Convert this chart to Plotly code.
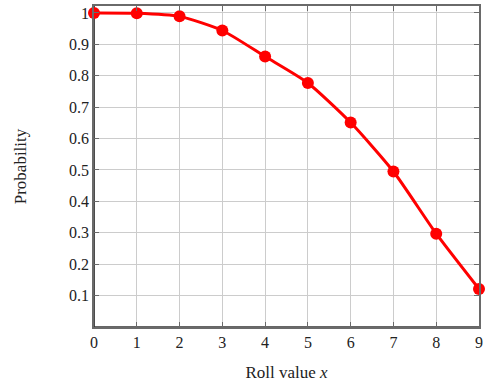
import plotly.graph_objects as go

roll_values = [0, 1, 2, 3, 4, 5, 6, 7, 8, 9]
probabilities = [1.0, 0.999, 0.989, 0.944, 0.861, 0.777, 0.651, 0.495, 0.297, 0.121]
x_ticks = [0, 1, 2, 3, 4, 5, 6, 7, 8, 9]
y_ticks = [0.1, 0.2, 0.3, 0.4, 0.5, 0.6, 0.7, 0.8, 0.9, 1.0]
y_tick_labels = ["0.1", "0.2", "0.3", "0.4", "0.5", "0.6", "0.7", "0.8", "0.9", "1"]

font_family = "Liberation Serif, DejaVu Serif, serif"

fig = go.Figure()
fig.add_trace(go.Scatter(
    x=roll_values, y=probabilities, mode="lines+markers",
    line=dict(color="#ff0000", width=3, shape="spline", smoothing=0.6),
    marker=dict(color="#ff0000", size=12),
    cliponaxis=False, showlegend=False, hoverinfo="skip",
))

# darker left and bottom axis lines
fig.add_shape(type="line", xref="paper", yref="paper", x0=0, y0=0, x1=0, y1=1,
              line=dict(color="#111111", width=1.5), layer="below")
fig.add_shape(type="line", xref="paper", yref="paper", x0=0, y0=0, x1=1, y1=0,
              line=dict(color="#333333", width=1.5), layer="below")

fig.update_layout(
    width=487, height=383,
    margin=dict(l=94, r=4, t=4, b=56),
    paper_bgcolor="white", plot_bgcolor="white",
    font=dict(family=font_family, size=16, color="#222222"),
    xaxis=dict(
        range=[0, 9], tickvals=x_ticks, showgrid=True, gridcolor="#cccccc", gridwidth=1,
        zeroline=False, showline=True, linecolor="#6a6a6a", linewidth=1.5,
        ticks="inside", ticklen=5, tickcolor="#6a6a6a", mirror="ticks",
        title=dict(text="Roll value <i>x</i>", standoff=16, font=dict(size=17)),
    ),
    yaxis=dict(
        range=[0, 1.022], tickvals=y_ticks, ticktext=y_tick_labels,
        showgrid=True, gridcolor="#cccccc", gridwidth=1,
        zeroline=False, showline=True, linecolor="#6a6a6a", linewidth=1.5,
        ticks="inside", ticklen=5, tickcolor="#6a6a6a", mirror="ticks",
        title=dict(text="Probability", standoff=38, font=dict(size=17)),
    ),
)

fig.write_html("out.html", post_script="document.body.style.margin='0';",
               config={"displayModeBar": False})
